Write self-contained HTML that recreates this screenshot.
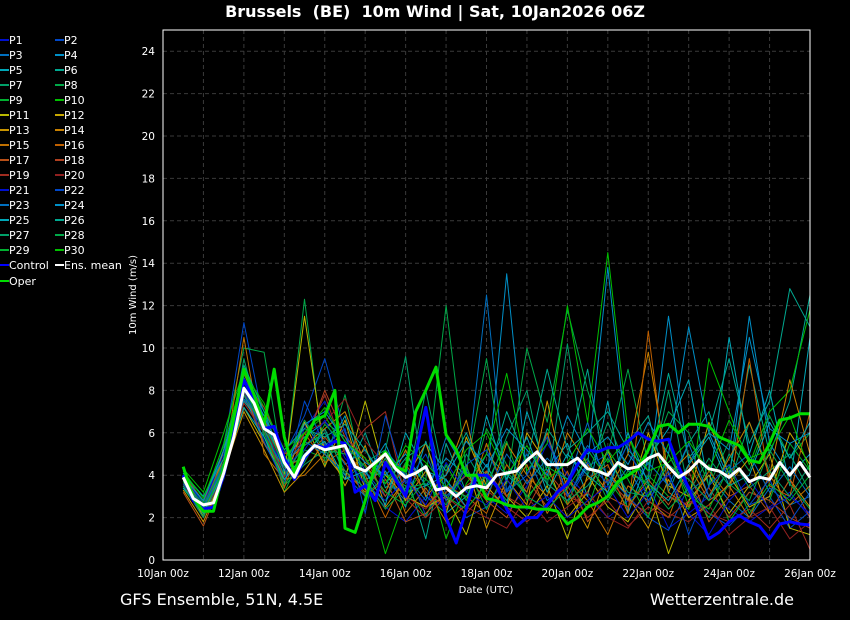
<!DOCTYPE html>
<html><head><meta charset="utf-8">
<style>
html,body{margin:0;padding:0;background:#000;}
svg{display:block;font-family:"DejaVu Sans","Liberation Sans",sans-serif;}
text{white-space:pre;}
</style></head>
<body>
<svg id="chart" width="850" height="620" viewBox="0 0 850 620">
<rect x="0" y="0" width="850" height="620" fill="#000"/>
<text x="435" y="17" fill="#fff" font-size="16" font-weight="bold" text-anchor="middle" xml:space="preserve">Brussels  (BE)  10m Wind | Sat, 10Jan2026 06Z</text>
<text x="120" y="605" fill="#fff" font-size="16">GFS Ensemble, 51N, 4.5E</text>
<text x="794" y="605" fill="#fff" font-size="16" text-anchor="end">Wetterzentrale.de</text>
<text x="486" y="593" fill="#fff" font-size="10" text-anchor="middle">Date (UTC)</text>
<text transform="translate(136,295) rotate(-90)" fill="#fff" font-size="10" text-anchor="middle">10m Wind (m/s)</text>
<g id="grid"></g>
<g id="axes"></g>
<g id="series"></g>
<rect x="163" y="30" width="647" height="530" fill="none" stroke="#fff" stroke-width="1"/>
<g id="legend"></g>
</svg>
<script>
const yTicks = [0,2,4,6,8,10,12,14,16,18,20,22,24];
const xTickLabels = ["10Jan 00z","12Jan 00z","14Jan 00z","16Jan 00z","18Jan 00z","20Jan 00z","22Jan 00z","24Jan 00z","26Jan 00z"];
const ensMean = [3.9,2.9,2.6,2.7,4.1,5.8,8.1,7.4,6.2,5.9,4.6,3.9,4.9,5.4,5.2,5.3,5.4,4.4,4.2,4.6,5.0,4.3,3.9,4.1,4.4,3.3,3.4,3.0,3.4,3.5,3.4,4.0,4.1,4.2,4.7,5.1,4.5,4.5,4.5,4.8,4.3,4.2,4.0,4.6,4.3,4.4,4.8,5.0,4.4,3.9,4.2,4.7,4.3,4.2,3.9,4.3,3.7,3.9,3.8,4.6,4.0,4.6,3.9];
const control = [4.0,2.8,2.4,2.5,4.0,6.0,8.5,7.5,6.2,6.3,4.8,3.8,4.8,5.4,5.3,5.6,5.5,3.2,3.5,2.8,4.6,3.8,3.0,5.0,7.2,4.2,2.0,0.8,2.4,4.0,4.0,3.5,2.4,1.6,2.0,2.0,2.6,3.2,3.6,4.5,5.2,5.1,5.3,5.3,5.6,6.0,5.7,5.6,5.7,4.4,3.4,2.2,1.0,1.3,1.8,2.1,1.8,1.6,1.0,1.7,1.8,1.7,1.65];
const oper = [4.4,2.9,2.3,2.3,4.3,6.7,9.0,7.8,6.4,9.0,5.8,4.1,5.6,6.6,6.8,8.0,1.5,1.3,2.8,4.5,5.1,4.4,4.2,7.0,8.0,9.1,5.9,5.2,4.0,4.0,2.9,2.8,2.6,2.5,2.5,2.4,2.4,2.3,1.7,2.0,2.5,2.7,3.0,3.7,4.0,4.3,5.2,6.3,6.4,6.0,6.4,6.4,6.3,5.8,5.6,5.4,4.7,4.6,5.5,6.6,6.7,6.9,6.9];
const P1=[3.8,2.2,4.8,8.5,6.0,4.0,6.2,7.5,5.0,3.5,2.5,1.8,3.0,2.5,4.2,3.0,2.2,3.5,5.5,4.0,3.0,2.0,2.8,3.5,1.5,2.2,3.0,2.4,1.8,2.5,3.2,2.0];
const P2=[4.1,2.6,5.2,11.2,6.4,5.0,6.8,9.5,6.0,4.2,3.0,4.5,2.1,3.8,2.0,2.5,3.3,4.8,3.6,2.8,4.4,5.0,3.0,2.0,1.4,3.5,2.2,1.6,2.6,3.0,1.5,2.3];
const P3=[3.5,2.0,4.2,7.8,5.5,3.8,5.0,6.0,4.5,5.2,3.8,2.8,7.0,3.0,4.0,12.5,3.2,5.0,2.8,3.6,6.5,3.0,4.4,2.6,5.0,3.2,4.0,2.8,2.0,3.4,2.6,3.0];
const P4=[3.9,2.8,4.6,8.2,6.8,4.8,5.8,6.5,5.8,4.0,5.5,3.2,3.5,4.8,4.0,3.5,13.5,4.0,6.0,3.0,4.5,13.8,5.0,3.8,11.5,4.6,6.0,3.8,11.5,5.5,4.0,5.0];
const P5=[3.6,2.4,4.4,7.5,6.2,4.2,6.5,5.0,6.8,3.8,4.2,2.5,5.6,2.2,3.0,4.5,2.6,7.0,4.2,5.5,3.0,7.5,2.2,4.8,6.2,8.5,3.4,10.5,5.0,8.0,3.5,10.5];
const P6=[4.0,3.0,5.0,8.8,7.0,4.5,4.8,6.2,4.0,6.0,3.4,4.2,1.0,5.5,3.2,5.0,4.0,3.2,6.2,4.8,9.0,3.5,5.5,6.8,3.2,5.5,7.0,4.0,9.2,5.0,7.5,12.5];
const P7=[3.7,2.5,4.0,9.5,5.8,3.5,4.5,5.2,3.8,4.6,5.2,9.6,3.0,2.2,5.0,3.4,5.8,8.0,3.5,10.2,4.0,6.5,4.2,3.5,8.0,3.2,4.8,3.5,6.5,4.2,5.0,3.2];
const P8=[4.2,2.7,5.5,10.0,9.8,4.0,12.3,4.5,7.8,3.5,2.8,4.6,3.8,12.0,4.2,9.5,3.6,10.0,6.5,11.8,8.0,5.0,9.0,4.5,7.0,6.0,3.5,5.6,4.2,6.8,4.8,6.0];
const P9=[3.4,2.1,3.8,8.0,6.6,3.2,5.2,4.8,5.5,3.0,4.0,3.5,2.0,4.5,2.8,6.2,4.5,3.0,4.0,2.6,5.2,3.8,2.5,4.0,3.0,2.4,4.5,1.8,3.2,2.8,5.5,4.2];
const P10=[4.3,3.2,6.0,9.0,7.2,5.2,6.0,6.8,5.2,3.8,0.3,3.0,4.5,1.0,3.6,5.0,8.8,4.2,5.5,12.0,6.5,14.5,6.0,3.0,5.5,2.5,9.5,7.0,4.5,7.0,8.0,11.8];
const P11=[3.8,2.3,4.5,7.2,5.5,4.0,11.5,5.0,3.8,7.5,4.0,3.0,2.5,3.0,1.2,4.2,3.0,2.0,3.5,1.0,4.0,2.5,1.8,3.5,0.3,2.8,4.0,2.2,3.5,5.0,1.5,1.2];
const P12=[4.0,2.0,5.2,8.5,6.0,3.6,6.5,4.4,6.6,3.3,5.0,2.8,4.2,2.2,5.8,3.5,2.4,6.0,4.5,2.0,3.2,5.2,2.8,6.0,3.5,3.0,6.5,4.0,2.5,3.0,6.0,4.5];
const P13=[3.3,1.8,4.1,7.0,5.2,3.2,4.2,5.6,3.5,5.4,2.5,3.8,5.5,2.8,4.5,1.5,3.8,2.6,7.5,3.2,1.5,4.2,3.0,1.5,3.8,2.0,2.6,3.6,4.8,2.2,3.8,2.5];
const P14=[3.9,2.6,4.8,8.8,6.6,4.6,5.4,6.2,7.0,4.5,3.2,5.2,3.0,4.0,6.6,2.8,5.5,4.0,3.0,6.0,4.5,3.2,5.0,9.8,4.0,5.0,3.0,4.8,6.5,4.0,8.5,5.0];
const P15=[3.5,2.2,4.4,10.5,5.0,3.8,4.0,5.0,4.2,3.2,4.8,2.2,3.4,1.8,2.6,5.5,3.0,4.5,2.2,3.8,2.8,1.2,3.5,2.8,2.0,4.5,2.8,3.5,2.0,4.0,2.6,3.5];
const P16=[3.6,2.4,4.2,7.6,6.2,3.4,6.0,4.6,5.2,4.0,2.0,4.0,2.5,3.5,3.0,2.2,4.5,3.2,6.0,2.6,3.8,4.5,2.2,10.8,3.2,2.5,4.2,3.0,9.5,3.5,3.0,7.0];
const P17=[3.2,1.6,4.0,8.0,5.5,4.4,4.8,5.8,4.6,3.0,3.8,1.8,2.2,3.2,4.0,2.8,2.0,3.8,2.5,4.2,1.8,3.0,2.5,3.8,2.6,4.2,1.8,3.0,3.5,2.2,3.8,2.0];
const P18=[4.0,2.8,4.6,8.4,7.2,5.0,5.5,8.0,5.8,4.8,3.0,4.5,3.2,2.5,3.5,4.2,3.0,2.4,4.2,3.0,2.6,3.8,2.8,2.2,3.0,2.6,3.4,2.0,3.2,2.8,2.0,1.5];
const P19=[3.5,2.0,4.3,7.4,6.0,3.9,5.6,7.8,5.0,6.2,7.0,2.9,2.0,3.0,2.2,3.3,2.5,1.8,2.6,3.5,2.0,2.8,1.6,2.5,2.0,2.8,2.2,1.8,2.4,1.5,2.6,0.5];
const P20=[3.8,2.5,4.5,7.8,6.4,4.2,6.0,6.5,7.6,5.6,4.5,3.0,2.4,3.5,2.5,2.0,1.5,3.0,1.8,2.5,3.2,2.0,1.5,2.8,2.2,1.8,2.6,1.2,2.0,2.5,1.0,1.8];
const P21=[4.0,2.6,5.0,8.0,6.0,4.4,5.2,6.6,4.8,3.6,2.8,3.8,2.6,4.6,3.2,2.6,3.8,2.4,3.0,2.0,2.8,3.5,2.0,3.2,4.0,2.2,1.2,2.8,3.8,2.4,3.0,2.2];
const P22=[3.6,2.3,4.6,8.2,5.6,3.6,7.5,5.4,6.2,2.2,6.8,3.6,5.0,2.8,4.5,5.2,3.2,4.0,5.8,3.0,4.6,3.6,5.5,2.8,4.2,1.2,3.5,4.5,2.6,3.8,1.8,3.2];
const P23=[3.7,2.5,4.4,7.6,6.4,4.5,5.6,5.0,4.0,3.0,5.2,4.0,2.8,5.8,4.2,3.0,5.0,3.6,4.8,3.8,5.4,4.0,3.0,4.6,3.5,5.5,3.0,4.2,5.0,3.2,4.4,3.0];
const P24=[3.9,2.8,5.2,8.6,6.8,4.2,6.4,7.0,5.6,4.6,4.0,5.0,3.5,4.0,5.6,4.4,6.2,5.2,4.0,6.8,5.0,5.8,4.5,6.5,5.0,11.0,6.0,5.2,10.5,6.2,5.5,6.0];
const P25=[3.4,2.2,4.2,7.2,5.8,3.8,5.0,5.6,3.8,4.2,2.6,6.0,4.2,3.8,2.5,6.8,3.8,5.8,3.2,5.0,4.0,3.2,6.0,3.6,2.8,4.5,5.8,3.5,4.0,6.5,4.8,6.5];
const P26=[4.1,3.0,4.8,9.2,7.0,5.2,6.2,5.8,6.4,5.2,3.6,4.8,5.5,4.2,6.0,3.8,7.0,4.6,9.0,5.2,6.0,7.0,5.2,4.2,8.8,4.8,6.0,9.5,5.5,7.5,12.8,11.0];
const P27=[3.5,2.0,4.5,7.8,6.2,4.0,5.4,6.0,4.2,3.4,4.8,3.2,8.0,3.4,3.0,4.0,2.8,4.8,3.6,2.8,3.5,4.8,3.2,3.0,4.5,3.8,2.8,5.0,3.4,4.2,3.0,4.5];
const P28=[3.8,2.6,4.6,8.0,6.5,4.4,6.6,5.2,5.0,3.8,2.4,3.4,3.6,2.6,4.4,2.4,4.2,3.0,2.4,3.4,4.8,2.8,4.2,3.6,2.4,3.4,2.0,3.6,2.8,5.2,3.6,2.4];
const P29=[3.7,2.4,4.2,8.2,6.0,3.6,4.6,6.4,5.4,4.4,3.2,2.6,3.8,3.0,2.4,3.6,5.6,2.8,4.4,3.8,2.4,5.2,3.8,2.0,5.0,3.0,2.4,4.4,2.2,3.6,2.8,4.0];
const P30=[4.2,2.9,5.4,8.8,7.4,4.8,6.0,7.2,5.6,4.8,3.6,5.4,4.6,3.4,5.2,6.0,4.0,5.4,3.8,4.6,6.2,4.6,5.8,4.2,4.6,5.6,4.2,6.6,4.8,5.2,6.8,4.2];
const members=[P1,P2,P3,P4,P5,P6,P7,P8,P9,P10,P11,P12,P13,P14,P15,P16,P17,P18,P19,P20,P21,P22,P23,P24,P25,P26,P27,P28,P29,P30];

const NS="http://www.w3.org/2000/svg";
const X0=163,X1=810,Y0=560,Y1=30,HOURS=384,YMAX=25;
const xs=h=>X0+(X1-X0)*h/HOURS;
const ys=v=>Y0-(Y0-Y1)*v/YMAX;
const memberColors=["#0010d0","#0048c8","#0070c0","#0090c8","#00a8b8","#00a890","#00a068","#00a848","#00b030","#00c000","#b8b800","#c8a800","#c89400","#c88000","#c07000","#c06000","#b85018","#b04020","#a02c20","#902020"];
const colorFor=i=>memberColors[i<20?i:i-20];

const grid=document.getElementById('grid');
for(const t of yTicks){
  if(t===0) continue;
  const l=document.createElementNS(NS,'line');
  
  
  l.setAttribute('x1',X0);l.setAttribute('x2',X1);l.setAttribute('y1',ys(t));l.setAttribute('y2',ys(t));
  l.setAttribute('stroke','#3a3a3a');l.setAttribute('stroke-dasharray','4,3');
  grid.appendChild(l);
}
for(let d=1;d<16;d++){
  const l=document.createElementNS(NS,'line');
  
  
  l.setAttribute('x1',xs(d*24));l.setAttribute('x2',xs(d*24));l.setAttribute('y1',Y1);l.setAttribute('y2',Y0);
  l.setAttribute('stroke','#3a3a3a');l.setAttribute('stroke-dasharray','4,3');
  grid.appendChild(l);
}
const axes=document.getElementById('axes');
for(const t of yTicks){
  const tx=document.createElementNS(NS,'text');
  
  
  tx.setAttribute('x',155);tx.setAttribute('y',ys(t)+4);tx.setAttribute('fill','#fff');
  tx.setAttribute('font-size','10.5');tx.setAttribute('text-anchor','end');
  tx.textContent=t;axes.appendChild(tx);
}
xTickLabels.forEach((lab,i)=>{
  const tx=document.createElementNS(NS,'text');
  
  
  tx.setAttribute('x',xs(i*48));tx.setAttribute('y',577);tx.setAttribute('fill','#fff');
  tx.setAttribute('font-size','10.5');tx.setAttribute('text-anchor','middle');
  tx.textContent=lab;axes.appendChild(tx);
});
const series=document.getElementById('series');
function poly(vals,startH,stepH,color,w,name){
  const p=document.createElementNS(NS,'polyline');
  
  
  p.setAttribute('points',vals.map((v,i)=>xs(startH+i*stepH).toFixed(1)+','+ys(v).toFixed(1)).join(' '));
  p.setAttribute('fill','none');p.setAttribute('stroke',color);p.setAttribute('stroke-width',w);
  p.setAttribute('stroke-linejoin','round');
  series.appendChild(p);
}
members.forEach((m,i)=>poly(m,12,12,colorFor(i),1,'member-line-p'+(i+1)));
poly(control,12,6,'#0000ff',3,'control-line');
poly(oper,12,6,'#00dd00',3,'oper-line');
poly(ensMean,12,6,'#ffffff',3,'ens-mean-line');

const legend=document.getElementById('legend');
function legendEntry(x,y,color,label,w){
  const g=document.createElementNS(NS,'g');
  
  
  const l=document.createElementNS(NS,'line');
  l.setAttribute('x1',x);l.setAttribute('x2',x+9);l.setAttribute('y1',y);l.setAttribute('y2',y);
  l.setAttribute('stroke',color);l.setAttribute('stroke-width',w);
  const t=document.createElementNS(NS,'text');
  t.setAttribute('x',x+9);t.setAttribute('y',y+4);t.setAttribute('fill','#fff');t.setAttribute('font-size','11');
  t.textContent=label;
  g.appendChild(l);g.appendChild(t);legend.appendChild(g);
}
for(let i=0;i<30;i++){
  const col=i%2, row=Math.floor(i/2);
  legendEntry(col?55:0,40+row*15,colorFor(i),'P'+(i+1),2);
}
legendEntry(0,265,'#0000ff','Control',2);
legendEntry(55,265,'#ffffff','Ens. mean',2);
legendEntry(0,281,'#00dd00','Oper',2);
</script>
</body></html>
